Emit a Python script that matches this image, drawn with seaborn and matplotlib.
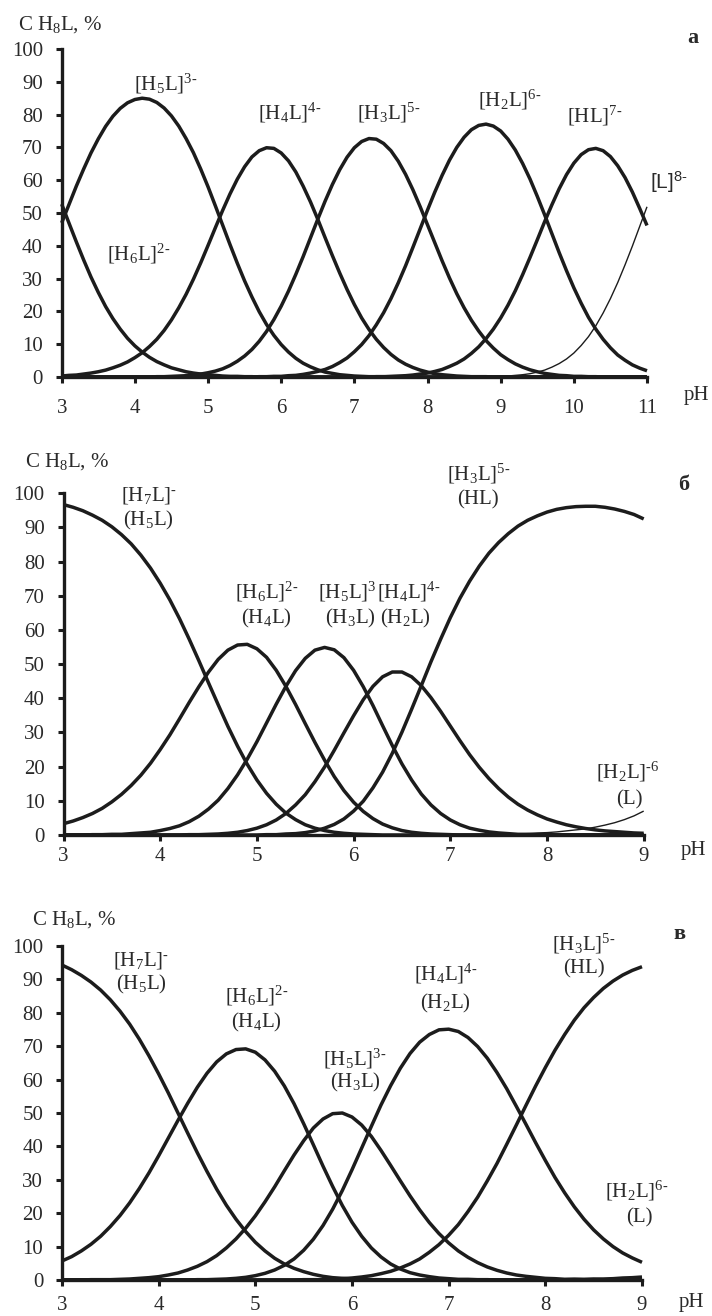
import numpy as np
import matplotlib
matplotlib.use("Agg")
import matplotlib.pyplot as plt
import seaborn as sns

# ---------------- data (percent of each species vs pH) ----------------
ph_a = np.round(np.arange(3.0, 11.0001, 0.1), 1)     # 81 points
ph_bc = np.round(np.arange(3.0, 9.0001, 0.1), 1)     # 61 points

# panel a
a_H6L = [52.7, 46.9, 41.2, 35.7, 30.5, 25.8, 21.5, 17.8, 14.6, 11.8, 9.5, 7.6, 6.0, 4.7, 3.7, 2.8,
         2.2, 1.6, 1.2, 0.9, 0.7, 0.5, 0.3, 0.2, 0.2, 0.1, 0.1] + [0.0] * 54
a_H5L = [47.0, 52.6, 58.2, 63.4, 68.3, 72.6, 76.4, 79.5, 81.9, 83.6, 84.6, 85.0, 84.7, 83.7, 82.0,
         79.6, 76.5, 72.7, 68.4, 63.4, 58.0, 52.2, 46.3, 40.4, 34.7, 29.3, 24.4, 19.9, 16.0, 12.7,
         9.9, 7.6, 5.7, 4.2, 3.1, 2.2, 1.5, 1.1, 0.7, 0.5, 0.3, 0.2, 0.1, 0.1, 0.1] + [0.0] * 36
a_H4L = [0.3, 0.5, 0.6, 0.9, 1.2, 1.6, 2.1, 2.8, 3.6, 4.6, 5.9, 7.4, 9.3, 11.5, 14.2, 17.4, 21.1,
         25.2, 29.8, 34.8, 40.1, 45.5, 50.8, 55.8, 60.3, 64.1, 67.1, 69.0, 69.9, 69.7, 68.3, 65.9,
         62.5, 58.2, 53.4, 48.1, 42.5, 37.0, 31.7, 26.7, 22.1, 18.0, 14.5, 11.5, 9.0, 6.9, 5.2,
         3.9, 2.9, 2.1, 1.5, 1.0, 0.7, 0.5, 0.3, 0.2, 0.1, 0.1, 0.1] + [0.0] * 22
a_H3L = [0.0] * 13 + [0.1, 0.1, 0.2, 0.3, 0.4, 0.6, 0.9, 1.3, 1.8, 2.5, 3.5, 4.8, 6.4, 8.4, 10.9,
                      13.9, 17.5, 21.6, 26.2, 31.3, 36.7, 42.4, 48.1, 53.6, 58.7, 63.2, 67.0, 69.9,
                      71.8, 72.7, 72.5, 71.2, 69.0, 65.8, 61.8, 57.1, 51.9, 46.4, 40.9, 35.4, 30.2,
                      25.4, 21.1, 17.3, 14.0, 11.1, 8.8, 6.8, 5.3, 4.0, 3.0, 2.2, 1.6, 1.1, 0.8,
                      0.5, 0.4, 0.2, 0.2, 0.1, 0.1] + [0.0] * 7
a_H2L = [0.0] * 27 + [0.1, 0.1, 0.2, 0.2, 0.4, 0.5, 0.8, 1.2, 1.7, 2.3, 3.2, 4.4, 5.8, 7.7, 9.9,
                      12.6, 15.9, 19.6, 23.9, 28.7, 33.9, 39.5, 45.2, 50.9, 56.4, 61.5, 66.1, 70.0,
                      73.1, 75.4, 76.7, 77.1, 76.5, 75.0, 72.5, 69.2, 65.1, 60.4, 55.1, 49.5, 43.7,
                      37.9, 32.4, 27.2, 22.5, 18.2, 14.6, 11.5, 8.9, 6.7, 5.1, 3.7, 2.7, 1.9]
a_HL = [0.0] * 43 + [0.1, 0.1, 0.2, 0.3, 0.4, 0.6, 0.9, 1.2, 1.7, 2.3, 3.2, 4.2, 5.5, 7.2, 9.2,
                     11.7, 14.6, 18.0, 21.9, 26.3, 31.2, 36.4, 41.8, 47.3, 52.5, 57.4, 61.7, 65.2,
                     67.8, 69.3, 69.7, 69.0, 67.2, 64.4, 60.8, 56.4, 51.4, 46.2]
a_L = [0.0] * 57 + [0.1, 0.1, 0.1, 0.2, 0.3, 0.5, 0.7, 1.0, 1.5, 2.1, 3.0, 4.1, 5.5, 7.3, 9.6,
                    12.3, 15.6, 19.5, 23.9, 28.8, 34.2, 39.9, 45.9, 51.9]

# panel b
b_H7L = [96.7, 95.9, 94.9, 93.6, 92.1, 90.2, 87.9, 85.2, 81.9, 78.1, 73.7, 68.8, 63.3, 57.3, 51.0,
         44.5, 38.1, 31.8, 26.0, 20.7, 16.1, 12.2, 9.0, 6.4, 4.5, 3.0, 2.0, 1.3, 0.8, 0.5, 0.3,
         0.2, 0.1] + [0.0] * 28
b_H6L = [3.3, 4.1, 5.1, 6.3, 7.8, 9.7, 11.9, 14.5, 17.5, 21.0, 25.0, 29.3, 34.0, 38.8, 43.4, 47.7,
         51.4, 54.1, 55.6, 55.8, 54.5, 52.0, 48.2, 43.5, 38.2, 32.6, 27.1, 21.9, 17.1, 13.0, 9.6,
         6.9, 4.8, 3.2, 2.1, 1.3, 0.8, 0.5, 0.3, 0.2, 0.1] + [0.0] * 20
b_H5L = [0.0, 0.0, 0.0, 0.1, 0.1, 0.2, 0.2, 0.4, 0.6, 0.8, 1.3, 1.9, 2.7, 3.9, 5.5, 7.6, 10.2, 13.6,
         17.6, 22.2, 27.3, 32.8, 38.3, 43.5, 48.1, 51.7, 54.1, 54.9, 54.2, 51.9, 48.2, 43.4, 37.9,
         32.0, 26.2, 20.8, 16.1, 12.0, 8.8, 6.3, 4.4, 3.0, 2.0, 1.4, 0.9, 0.6, 0.4, 0.2, 0.2, 0.1,
         0.1] + [0.0] * 10
b_H4L = [0.0] * 13 + [0.1, 0.1, 0.2, 0.3, 0.5, 0.8, 1.3, 2.0, 3.0, 4.4, 6.3, 8.8, 11.8, 15.6, 19.9,
                      24.8, 29.9, 34.9, 39.6, 43.5, 46.3, 47.7, 47.7, 46.3, 43.7, 40.2, 36.2, 31.9,
                      27.6, 23.5, 19.8, 16.5, 13.6, 11.1, 9.0, 7.3, 5.9, 4.7, 3.8, 3.0, 2.4, 1.9,
                      1.5, 1.2, 1.0, 0.8, 0.6, 0.5]
b_H3L = [0.0] * 21 + [0.1, 0.1, 0.3, 0.4, 0.7, 1.2, 2.0, 3.1, 4.7, 7.0, 9.9, 13.8, 18.4, 23.9, 30.1,
                      36.8, 43.7, 50.7, 57.3, 63.6, 69.3, 74.3, 78.7, 82.5, 85.6, 88.2, 90.4, 92.1,
                      93.4, 94.5, 95.3, 95.8, 96.1, 96.2, 96.2, 95.9, 95.4, 94.7, 93.8, 92.5]
b_H2L = [0.0] * 41 + [0.1, 0.1, 0.1, 0.2, 0.2, 0.3, 0.3, 0.4, 0.6, 0.7, 0.9, 1.2, 1.5, 1.8, 2.3,
                      2.9, 3.6, 4.5, 5.6, 7.0]

# panel c
c_H7L = [94.3, 92.9, 91.2, 89.2, 86.8, 83.9, 80.5, 76.6, 72.1, 67.1, 61.7, 56.0, 50.0, 44.0, 38.1,
         32.5, 27.2, 22.4, 18.2, 14.5, 11.3, 8.7, 6.5, 4.8, 3.5, 2.5, 1.7, 1.1, 0.7, 0.5, 0.3,
         0.2, 0.1, 0.1] + [0.0] * 27
c_H6L = [5.7, 7.0, 8.7, 10.7, 13.1, 16.0, 19.3, 23.1, 27.4, 32.1, 37.2, 42.5, 47.8, 52.9, 57.7,
         61.9, 65.3, 67.7, 69.0, 69.2, 68.2, 65.9, 62.5, 58.1, 52.8, 46.8, 40.5, 34.1, 28.0, 22.3,
         17.3, 13.1, 9.6, 6.9, 4.8, 3.3, 2.2, 1.5, 1.0, 0.6, 0.4, 0.2, 0.2, 0.1, 0.1] + [0.0] * 16
c_H5L = [0.0, 0.0, 0.0, 0.1, 0.1, 0.1, 0.2, 0.3, 0.5, 0.7, 1.0, 1.5, 2.1, 3.0, 4.1, 5.5, 7.3, 9.6,
         12.3, 15.5, 19.2, 23.4, 27.9, 32.7, 37.4, 41.7, 45.5, 48.2, 49.8, 50.0, 48.8, 46.4, 43.0,
         38.8, 34.3, 29.7, 25.2, 21.0, 17.2, 13.9, 11.1, 8.7, 6.8, 5.2, 3.9, 2.9, 2.1, 1.5, 1.1,
         0.8, 0.5, 0.4, 0.2, 0.2, 0.1, 0.1] + [0.0] * 5
c_H4L = [0.0] * 14 + [0.1, 0.1, 0.2, 0.3, 0.5, 0.8, 1.3, 2.0, 3.0, 4.4, 6.3, 8.9, 12.2, 16.3, 21.2,
                      26.8, 33.0, 39.5, 46.0, 52.4, 58.2, 63.4, 67.8, 71.2, 73.5, 74.9, 75.1, 74.4,
                      72.6, 69.9, 66.4, 62.1, 57.3, 52.0, 46.6, 41.1, 35.8, 30.7, 26.1, 21.9, 18.2,
                      15.0, 12.3, 10.0, 8.1, 6.6, 5.3]
c_H3L = [0.0] * 25 + [0.1, 0.1, 0.1, 0.2, 0.4, 0.6, 0.9, 1.3, 1.9, 2.6, 3.6, 4.8, 6.3, 8.3, 10.6,
                      13.4, 16.6, 20.5, 24.8, 29.7, 34.9, 40.6, 46.4, 52.3, 58.1, 63.6, 68.8, 73.5,
                      77.8, 81.5, 84.6, 87.3, 89.5, 91.3, 92.7, 93.8]
c_H2L = [0.0] * 50 + [0.1, 0.1, 0.1, 0.2, 0.2, 0.3, 0.3, 0.4, 0.6, 0.7, 0.9]

xticks_a = [3, 4, 5, 6, 7, 8, 9, 10, 11]
xticks_bc = [3, 4, 5, 6, 7, 8, 9]
yticks = [0, 10, 20, 30, 40, 50, 60, 70, 80, 90, 100]

for s in (a_H6L, a_H5L, a_H4L, a_H3L, a_H2L, a_HL, a_L):
    assert len(s) == len(ph_a), len(s)
for s in (b_H7L, b_H6L, b_H5L, b_H4L, b_H3L, b_H2L, c_H7L, c_H6L, c_H5L, c_H4L, c_H3L, c_H2L):
    assert len(s) == len(ph_bc), len(s)

# ---------------- style ----------------
sns.set_style("ticks")
plt.rcParams["font.family"] = ["Liberation Serif", "DejaVu Serif"]
plt.rcParams["mathtext.default"] = "regular"
INK = "#1c1c1c"
TXT = "#2a2a2a"
FS = 15
LW = 2.5
LW_THIN = 1.0
HY = "\u2010"  # typographic hyphen used in the charge superscripts

W, H = 712, 1316
fig = plt.figure(figsize=(W / 100, H / 100), dpi=100)


def px_axes(left, right, top, bottom):
    return fig.add_axes([left / W, 1 - bottom / H, (right - left) / W, (bottom - top) / H])


def style_axes(ax, xticks, xpad):
    ax.set_xlim(xticks[0], xticks[-1])
    ax.set_ylim(0, 100)
    ax.set_xticks(xticks)
    ax.set_yticks(yticks)
    ax.set_xlabel("")
    ax.set_ylabel("")
    for s in ("top", "right"):
        ax.spines[s].set_visible(False)
    for s in ("left", "bottom"):
        ax.spines[s].set_linewidth(2.4)
        ax.spines[s].set_color(INK)
        ax.spines[s].set_zorder(3)
    ax.tick_params(axis="both", direction="out", length=4.5, width=2.2, color=INK,
                   labelsize=FS, labelcolor=TXT)
    ax.tick_params(axis="y", pad=9)
    ax.tick_params(axis="x", pad=xpad)
    ax.set_facecolor("none")


def draw(ax, x, series):
    for y, lw in series:
        sns.lineplot(x=x, y=y, ax=ax, color=INK, linewidth=lw, solid_capstyle="butt",
                     solid_joinstyle="round", clip_on=False, zorder=2)


def lab(ax, x, y, s, **kw):
    ax.text(x, y, s, ha="center", va="center", fontsize=FS, color=TXT, clip_on=False, **kw)


def ion(core, charge):
    return core + r"$^{" + charge + "}$"


# ---------------- panel a ----------------
ax = px_axes(61.7, 647, 49, 377)
draw(ax, ph_a, [(a_H6L, LW), (a_H5L, LW), (a_H4L, LW), (a_H3L, LW), (a_H2L, LW),
                (a_HL, LW), (a_L, LW_THIN)])
style_axes(ax, xticks_a, 11)
lab(ax, 4.42, 89.5, ion(r"[H$_5$L]", "3" + HY))
lab(ax, 4.05, 37.5, ion(r"[H$_6$L]", "2" + HY))
lab(ax, 6.12, 80.5, ion(r"[H$_4$L]", "4" + HY))
lab(ax, 7.47, 80.5, ion(r"[H$_3$L]", "5" + HY))
lab(ax, 9.12, 84.5, ion(r"[H$_2$L]", "6" + HY))
lab(ax, 10.29, 79.5, ion("[HL]", "7" + HY))
lab(ax, 11.3, 59.5, ion("[L]", "8" + HY), family=["Liberation Sans", "DejaVu Sans"])
ax.text(11.62, 103.5, "а", ha="center", va="center", fontsize=FS + 1, fontweight="bold",
        color=TXT, clip_on=False)
ax.text(11.5, -5.5, "pH", ha="left", va="center", fontsize=FS, color=TXT, clip_on=False)
fig.text(18 / W, 1 - 25 / H, r"C H$_8$L, %", ha="left", va="center", fontsize=FS, color=TXT)

# ---------------- panel b ----------------
ax = px_axes(63.5, 643.7, 493.3, 835)
draw(ax, ph_bc, [(b_H7L, LW), (b_H6L, LW), (b_H5L, LW), (b_H4L, LW), (b_H3L, LW),
                 (b_H2L, LW_THIN)])
style_axes(ax, xticks_bc, 4)
lab(ax, 3.88, 99.3, ion(r"[H$_7$L]", HY))
lab(ax, 3.88, 92.1, r"(H$_5$L)")
lab(ax, 5.10, 71.2, ion(r"[H$_6$L]", "2" + HY))
lab(ax, 5.10, 63.4, r"(H$_4$L)")
lab(ax, 5.93, 71.2, ion(r"[H$_5$L]", "3"))
lab(ax, 5.97, 63.4, r"(H$_3$L)")
lab(ax, 6.57, 71.2, ion(r"[H$_4$L]", "4" + HY))
lab(ax, 6.54, 63.4, r"(H$_2$L)")
lab(ax, 7.29, 105.8, ion(r"[H$_3$L]", "5" + HY))
lab(ax, 7.29, 98.0, "(HL)")
lab(ax, 8.84, 18.5, ion(r"[H$_2$L]", HY + "6"))
lab(ax, 8.85, 10.2, "(L)")
ax.text(9.41, 102.3, "б", ha="center", va="center", fontsize=FS + 1, fontweight="bold",
        color=TXT, clip_on=False)
ax.text(9.38, -4.4, "pH", ha="left", va="center", fontsize=FS, color=TXT, clip_on=False)
fig.text(25 / W, 1 - 461.7 / H, r"C H$_8$L, %", ha="left", va="center", fontsize=FS, color=TXT)

# ---------------- panel c ----------------
ax = px_axes(62, 642, 946, 1280)
draw(ax, ph_bc, [(c_H7L, LW), (c_H6L, LW), (c_H5L, LW), (c_H4L, LW), (c_H3L, LW),
                 (c_H2L, LW)])
style_axes(ax, xticks_bc, 7)
lab(ax, 3.82, 95.8, ion(r"[H$_7$L]", HY))
lab(ax, 3.82, 88.6, r"(H$_5$L)")
lab(ax, 5.01, 85.2, ion(r"[H$_6$L]", "2" + HY))
lab(ax, 5.01, 77.2, r"(H$_4$L)")
lab(ax, 6.03, 66.2, ion(r"[H$_5$L]", "3" + HY))
lab(ax, 6.03, 59.2, r"(H$_3$L)")
lab(ax, 6.97, 91.7, ion(r"[H$_4$L]", "4" + HY))
lab(ax, 6.97, 82.7, r"(H$_2$L)")
lab(ax, 8.40, 100.7, ion(r"[H$_3$L]", "5" + HY))
lab(ax, 8.40, 93.2, "(HL)")
lab(ax, 8.95, 26.6, ion(r"[H$_2$L]", "6" + HY))
lab(ax, 8.97, 18.6, "(L)")
ax.text(9.39, 103.7, "в", ha="center", va="center", fontsize=FS + 1, fontweight="bold",
        color=TXT, clip_on=False)
ax.text(9.38, -6.8, "pH", ha="left", va="center", fontsize=FS, color=TXT, clip_on=False)
fig.text(32 / W, 1 - 920 / H, r"C H$_8$L, %", ha="left", va="center", fontsize=FS, color=TXT)

fig.savefig("out.png", dpi=100, facecolor="white")
